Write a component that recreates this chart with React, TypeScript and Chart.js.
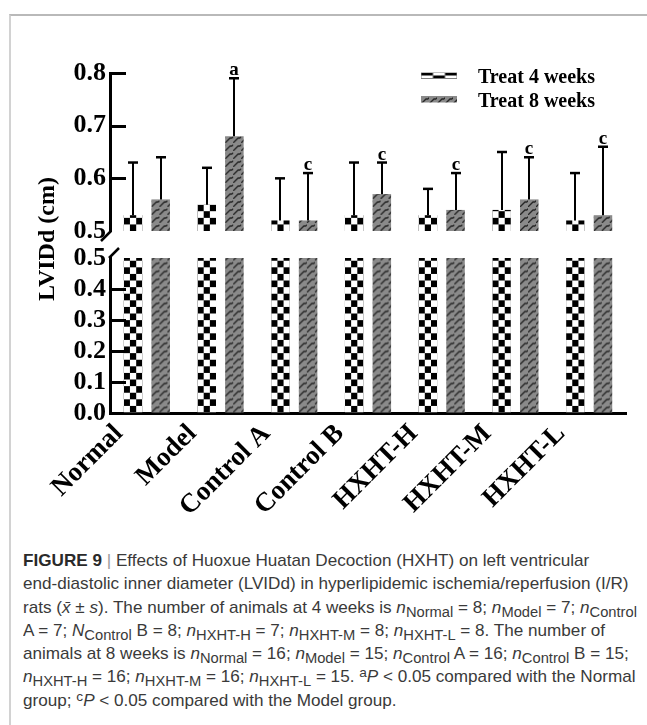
import { useEffect, useLayoutEffect, useRef } from 'react';
import { Chart, registerables } from 'chart.js';

Chart.register(...registerables);

// Groups along the x axis
const groups = ['Normal', 'Model', 'Control A', 'Control B', 'HXHT-H', 'HXHT-M', 'HXHT-L'];
// LVIDd (cm): mean and SD after 4 weeks of treatment
const mean4w = [0.53, 0.55, 0.52, 0.53, 0.53, 0.54, 0.52];
const sd4w = [0.10, 0.07, 0.08, 0.10, 0.05, 0.11, 0.09];
// LVIDd (cm): mean and SD after 8 weeks of treatment
const mean8w = [0.56, 0.68, 0.52, 0.57, 0.54, 0.56, 0.53];
const sd8w = [0.08, 0.11, 0.09, 0.06, 0.07, 0.08, 0.13];
// significance letters over the 8-week bars
const sig8w = ['', 'a', 'c', 'c', 'c', 'c', 'c'];
const seriesNames = ['Treat 4 weeks', 'Treat 8 weeks'];
const yTitle = 'LVIDd (cm)';
// broken y axis: lower segment and upper segment
const lowerRange = [0, 0.5];
const upperRange = [0.5, 0.8];
const tickStep = 0.1;

const SERIF = '"Liberation Serif", "Times New Roman", serif';
const SANS = '"Liberation Sans", Arial, Helvetica, sans-serif';
const BREAK_GAP = 27;
const UPPER_SHARE = 158 / 313;
const AXIS_W = 3;
const TICK_LEN = 16;
const CHECK_CELL_H = 6.6;
const CANVAS_H = 545;
const X_AXIS_H = 132;

function checkerTile() {
  const c = document.createElement('canvas');
  c.width = 12;
  c.height = 14;
  const g = c.getContext('2d')!;
  g.fillStyle = '#ffffff';
  g.fillRect(0, 0, 12, 14);
  g.fillStyle = '#000000';
  g.fillRect(0, 0, 6, 7);
  g.fillRect(6, 7, 6, 7);
  return c;
}

function hatchTile() {
  const c = document.createElement('canvas');
  c.width = 8;
  c.height = 8;
  const g = c.getContext('2d')!;
  g.fillStyle = '#8a8a8a';
  g.fillRect(0, 0, 8, 8);
  g.strokeStyle = '#262626';
  g.lineWidth = 1.3;
  g.beginPath();
  g.moveTo(-1, 9);
  g.lineTo(5, 3);
  g.lineTo(7, 3);
  g.moveTo(7, 3);
  g.lineTo(9, 1);
  g.stroke();
  return c;
}

const lowPart = (m: number[]) => m.map((v) => Math.min(v, upperRange[0]));
const highPart = (m: number[]) => m.map((v) => [upperRange[0], v]);

export default function App() {
  const canvasRef = useRef<HTMLCanvasElement>(null);
  const capRef = useRef<HTMLDivElement>(null);

  useLayoutEffect(() => {
    const box = capRef.current;
    if (!box) return;
    const lines = Array.from(box.children) as HTMLElement[];
    lines.forEach((l) => (l.style.transform = 'none'));
    const k = 606 / lines[1].offsetWidth;
    lines.forEach((l) => (l.style.transform = `scaleX(${k})`));
  }, []);

  useEffect(() => {
    const canvas = canvasRef.current!;
    const c2d = canvas.getContext('2d')!;
    const chk = checkerTile();
    const hatch = hatchTile();

    const patternFor = (kind: string, left: number, base: number, w: number, cellH = CHECK_CELL_H) => {
      const p = c2d.createPattern(kind === 'w4' ? chk : hatch, 'repeat')!;
      const m = new DOMMatrix();
      m.translateSelf(left, base);
      if (kind === 'w4') m.scaleSelf(w / 18, cellH / 7);
      p.setTransform(m);
      return p;
    };

    const fmt = (v: number | string) => Number(v).toFixed(1);
    const tickFont = { family: SERIF, weight: 'bold' as const, size: 26 };

    const brokenAxis = {
      id: 'brokenAxis',
      afterLayout(chart: any) {
        const { top, bottom } = chart.chartArea;
        const hi = chart.scales.yHigh;
        const lo = chart.scales.yLow;
        const span = bottom - top - BREAK_GAP;
        const hiH = span * UPPER_SHARE;
        hi.top = top;
        hi.bottom = top + hiH;
        hi.height = hiH;
        hi.configure();
        lo.top = top + hiH + BREAK_GAP;
        lo.bottom = bottom;
        lo.height = bottom - lo.top;
        lo.configure();
      },
    };

    const barPatterns = {
      id: 'barPatterns',
      beforeDatasetsDraw(chart: any) {
        chart.data.datasets.forEach((ds: any, i: number) => {
          const meta = chart.getDatasetMeta(i);
          meta.data.forEach((el: any) => {
            const left = el.x - el.width / 2;
            el.options = { ...el.options, backgroundColor: patternFor(ds.stack, left, el.base, el.width) };
          });
        });
      },
    };

    const decorations = {
      id: 'decorations',
      afterDatasetsDraw(chart: any) {
        const ctx = chart.ctx;
        const { left } = chart.chartArea;
        const hi = chart.scales.yHigh;
        const lo = chart.scales.yLow;
        ctx.save();
        ctx.strokeStyle = '#000';
        ctx.fillStyle = '#000';

        // inward tick marks
        ctx.lineWidth = AXIS_W;
        [hi, lo].forEach((s: any) => {
          s.ticks.forEach((t: any) => {
            if (Math.abs(t.value - upperRange[0]) < 1e-9 || Math.abs(t.value - lowerRange[0]) < 1e-9) return;
            const y = Math.round(s.getPixelForValue(t.value)) + 0.5;
            ctx.beginPath();
            ctx.moveTo(left - 1, y);
            ctx.lineTo(left + TICK_LEN, y);
            ctx.stroke();
          });
        });

        // axis break marks
        ctx.lineWidth = 2.5;
        ctx.beginPath();
        ctx.moveTo(left + 1, hi.bottom);
        ctx.lineTo(left - 9, hi.bottom + 10);
        ctx.moveTo(left - 1, lo.top);
        ctx.lineTo(left + 9, lo.top - 10);
        ctx.stroke();

        // error bars (upper whisker only) and significance letters
        const series = [
          { idx: 1, mean: mean4w, sd: sd4w, sig: null as string[] | null },
          { idx: 3, mean: mean8w, sd: sd8w, sig: sig8w },
        ];
        series.forEach(({ idx, mean, sd, sig }) => {
          const meta = chart.getDatasetMeta(idx);
          meta.data.forEach((el: any, i: number) => {
            const x = Math.round(el.x);
            const yTopErr = hi.getPixelForValue(mean[i] + sd[i]);
            ctx.lineWidth = 2;
            ctx.beginPath();
            ctx.moveTo(x, el.y);
            ctx.lineTo(x, yTopErr);
            ctx.stroke();
            ctx.lineWidth = 2.5;
            ctx.beginPath();
            ctx.moveTo(x - 5, yTopErr);
            ctx.lineTo(x + 5, yTopErr);
            ctx.stroke();
            if (sig && sig[i]) {
              ctx.font = `bold 19px ${SERIF}`;
              ctx.textAlign = 'center';
              ctx.textBaseline = 'alphabetic';
              ctx.fillText(sig[i], x, yTopErr - 3);
            }
          });
        });

        // legend
        const lx = 421;
        const baselines = [83, 106.5];
        seriesNames.forEach((name, i) => {
          const b = baselines[i];
          const kind = i === 0 ? 'w4' : 'w8';
          const sy = b - 10.5;
          ctx.fillStyle = patternFor(kind, lx, sy, 36, 3);
          ctx.fillRect(lx, sy, 36, 6.5);
          ctx.fillStyle = '#000';
          ctx.font = `bold 20px ${SERIF}`;
          ctx.textAlign = 'left';
          ctx.textBaseline = 'alphabetic';
          ctx.fillText(name, 478, b);
        });

        // y axis title
        ctx.translate(48, 239);
        ctx.rotate(-Math.PI / 2);
        ctx.font = `bold 24px ${SERIF}`;
        ctx.textAlign = 'center';
        ctx.textBaseline = 'middle';
        ctx.fillText(yTitle, 0, 0);
        ctx.restore();
      },
    };

    const yCommon = {
      type: 'linear' as const,
      position: 'left' as const,
      stack: 'lvidd',
      stacked: false,
      grid: { display: true, drawOnChartArea: false, drawTicks: false },
      border: { display: true, width: AXIS_W, color: '#000' },
      afterFit: (s: any) => {
        s.width = 110;
      },
    };

    const chart = new Chart(canvas, {
      type: 'bar',
      data: {
        labels: groups,
        datasets: [
          { label: seriesNames[0], data: lowPart(mean4w), yAxisID: 'yLow', stack: 'w4' },
          { label: seriesNames[0], data: highPart(mean4w) as any, yAxisID: 'yHigh', stack: 'w4' },
          { label: seriesNames[1], data: lowPart(mean8w), yAxisID: 'yLow', stack: 'w8' },
          { label: seriesNames[1], data: highPart(mean8w) as any, yAxisID: 'yHigh', stack: 'w8' },
        ],
      },
      options: {
        responsive: false,
        animation: false,
        devicePixelRatio: 1,
        layout: { padding: { top: 73, right: 21, left: 0, bottom: 0 } },
        datasets: { bar: { categoryPercentage: 0.75, barPercentage: 0.67, borderWidth: 0 } },
        plugins: { legend: { display: false }, tooltip: { enabled: false } },
        scales: {
          x: {
            type: 'category',
            offset: true,
            grid: { display: false },
            border: { display: true, width: AXIS_W, color: '#000' },
            ticks: {
              color: '#000',
              font: { family: SERIF, weight: 'bold', size: 27 },
              minRotation: 45,
              maxRotation: 45,
              autoSkip: false,
              padding: -3,
              labelOffset: -28,
            },
            afterFit: (s: any) => {
              s.height = X_AXIS_H;
            },
          },
          yHigh: {
            ...yCommon,
            stackWeight: UPPER_SHARE,
            min: upperRange[0],
            max: upperRange[1],
            ticks: { stepSize: tickStep, autoSkip: false, callback: fmt, color: '#000', font: tickFont, padding: 4 },
          },
          yLow: {
            ...yCommon,
            stackWeight: 1 - UPPER_SHARE,
            min: lowerRange[0],
            max: lowerRange[1],
            ticks: { stepSize: tickStep, autoSkip: false, callback: fmt, color: '#000', font: tickFont, padding: 4 },
          },
        } as any,
      },
      plugins: [brokenAxis, barPatterns, decorations],
    });
    return () => chart.destroy();
  }, []);

  const sub = { fontSize: '0.86em', verticalAlign: '-0.3em', lineHeight: 0 } as const;
  const sup = { fontSize: '0.8em', verticalAlign: '0.4em', lineHeight: 0 } as const;
  const it = { fontStyle: 'italic' } as const;
  const lineStyle = { width: 'max-content', height: 23.3, whiteSpace: 'nowrap', transformOrigin: 'left center' } as const;

  return (
    <div style={{ position: 'absolute', left: 0, top: 0, width: 647, height: 725, overflow: 'hidden', background: '#fff' }}>
      <div
        style={{
          position: 'absolute',
          left: 9,
          top: 14,
          width: 640,
          height: 720,
          borderTop: '2px solid #b9b9b9',
          borderLeft: '2px solid #d2d2d2',
        }}
      />
      <canvas ref={canvasRef} width={647} height={CANVAS_H} style={{ position: 'absolute', left: 0, top: 0 }} />
      <div
        ref={capRef}
        style={{
          position: 'absolute',
          left: 23,
          top: 549,
          fontFamily: SANS,
          fontSize: 17,
          lineHeight: '23.3px',
          color: '#3a3a3a',
        }}
      >
        <div style={lineStyle}>
          <b style={{ color: '#2a2a2a' }}>FIGURE 9</b> <span style={{ color: '#9a9a9a' }}>|</span> Effects of Huoxue Huatan
          Decoction (HXHT) on left ventricular
        </div>
        <div style={lineStyle}>end-diastolic inner diameter (LVIDd) in hyperlipidemic ischemia/reperfusion (I/R)</div>
        <div style={lineStyle}>
          rats (<span style={it}>x̄</span> ± <span style={it}>s</span>). The number of animals at 4 weeks is{' '}
          <span style={it}>n</span>
          <sub style={sub}>Normal</sub> = 8; <span style={it}>n</span>
          <sub style={sub}>Model</sub> = 7; <span style={it}>n</span>
          <sub style={sub}>Control</sub>
        </div>
        <div style={lineStyle}>
          A = 7; <span style={it}>N</span>
          <sub style={sub}>Control</sub> B = 8; <span style={it}>n</span>
          <sub style={sub}>HXHT-H</sub> = 7; <span style={it}>n</span>
          <sub style={sub}>HXHT-M</sub> = 8; <span style={it}>n</span>
          <sub style={sub}>HXHT-L</sub> = 8. The number of
        </div>
        <div style={lineStyle}>
          animals at 8 weeks is <span style={it}>n</span>
          <sub style={sub}>Normal</sub> = 16; <span style={it}>n</span>
          <sub style={sub}>Model</sub> = 15; <span style={it}>n</span>
          <sub style={sub}>Control</sub> A = 16; <span style={it}>n</span>
          <sub style={sub}>Control</sub> B = 15;
        </div>
        <div style={lineStyle}>
          <span style={it}>n</span>
          <sub style={sub}>HXHT-H</sub> = 16; <span style={it}>n</span>
          <sub style={sub}>HXHT-M</sub> = 16; <span style={it}>n</span>
          <sub style={sub}>HXHT-L</sub> = 15. <sup style={sup}>a</sup>
          <span style={it}>P</span> &lt; 0.05 compared with the Normal
        </div>
        <div style={lineStyle}>
          group; <sup style={sup}>c</sup>
          <span style={it}>P</span> &lt; 0.05 compared with the Model group.
        </div>
      </div>
    </div>
  );
}
